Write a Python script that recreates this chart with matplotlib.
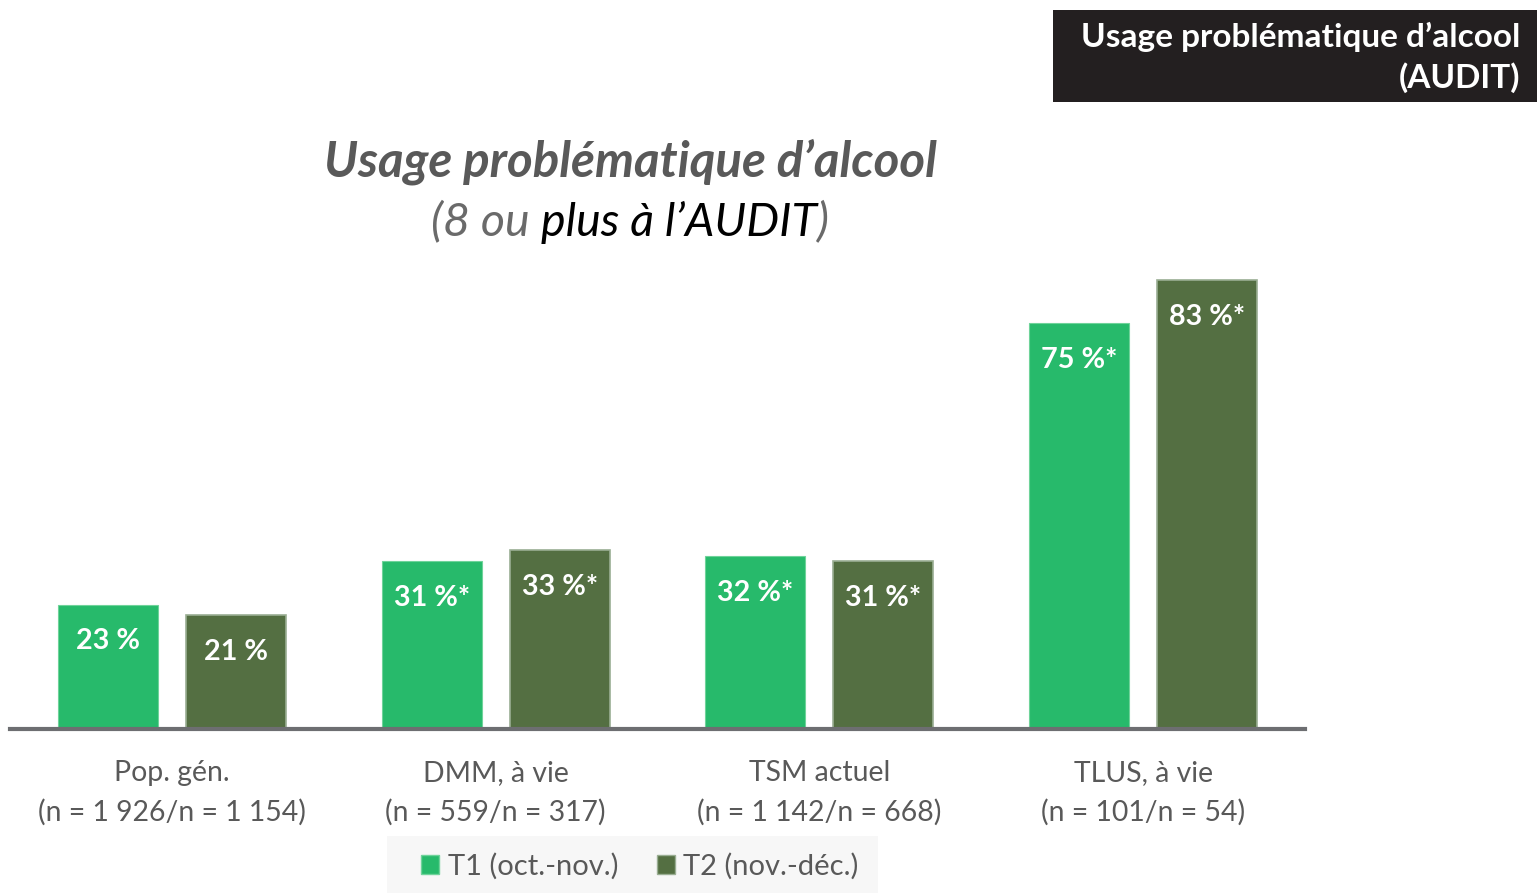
import matplotlib
matplotlib.use("Agg")
import matplotlib.pyplot as plt
from matplotlib.patches import Rectangle, Patch
import numpy as np

categories = ["Pop. gén.\n(n = 1 926/n = 1 154)",
              "DMM, à vie\n(n = 559/n = 317)",
              "TSM actuel\n(n = 1 142/n = 668)",
              "TLUS, à vie\n(n = 101/n = 54)"]
t1_values = [23, 31, 32, 75]
t2_values = [21, 33, 31, 83]
t1_labels = ["23 %", "31 %*", "32 %*", "75 %*"]
t2_labels = ["21 %", "33 %*", "31 %*", "83 %*"]
series_names = ["T1 (oct.-nov.)", "T2 (nov.-déc.)"]

C1 = "#27ba6b"
C2 = "#546f42"
GRAY = "#595959"
FONT = "Lato"

W, H = 1537, 893
fig = plt.figure(figsize=(W / 100, H / 100), dpi=100)
fig.patch.set_facecolor("white")

base_px = 729
top_px = 250
px_per = 5.41
ax = fig.add_axes([10 / W, (H - base_px) / H, (1305 - 10) / W, (base_px - top_px) / H])
ax.set_xlim(-0.5, 3.5)
ax.set_ylim(0, (base_px - top_px) / px_per)

x = np.arange(len(categories))
bw = 100 / 324
off = 64 / 324
b1 = ax.bar(x - off, t1_values, bw, color=C1, edgecolor="#6fd39a", linewidth=0.8, zorder=2)
b2 = ax.bar(x + off, t2_values, bw, color=C2, edgecolor="#9aae93", linewidth=1.2, zorder=2)

for bars, labels in ((b1, t1_labels), (b2, t2_labels)):
    for r, lab in zip(bars, labels):
        ax.annotate(lab, (r.get_x() + r.get_width() / 2, r.get_height()),
                    xytext=(0, -26.5), textcoords="offset points",
                    ha="center", va="center", color="white",
                    fontsize=20.7, fontweight="bold", family=FONT)

for s in ["top", "left", "right"]:
    ax.spines[s].set_visible(False)
ax.spines["bottom"].set_color("#6d6e71")
ax.spines["bottom"].set_linewidth(3)
ax.spines["bottom"].set_zorder(3)
ax.set_yticks([])
ax.set_xticks(x)
ax.set_xticklabels(categories, fontsize=20.4, color=GRAY, family=FONT, linespacing=1.6)
ax.tick_params(axis="x", length=0, pad=22)
ax.set_facecolor("none")

# Top-right dark box
fig.patches.append(Rectangle((1053 / W, (H - 102) / H), (W - 1053) / W, 92 / H,
                             transform=fig.transFigure, facecolor="#231f20",
                             edgecolor="none", zorder=0))
fig.text(1520 / W, 1 - 37 / H, "Usage problématique d’alcool", ha="right", va="center",
         color="white", fontsize=24, fontweight="bold", family=FONT)
fig.text(1520 / W, 1 - 78 / H, "(AUDIT)", ha="right", va="center",
         color="white", fontsize=24, fontweight="bold", family=FONT)

# Title
fig.text(630 / W, 1 - 162 / H, "Usage problématique d’alcool", ha="center", va="center",
         color=GRAY, fontsize=35.5, fontweight="bold", style="italic", family=FONT)

pieces = [("(8 ou ", "#6a6a6a"), ("plus à l’AUDIT", "black"), (")", "#6a6a6a")]
renderer = fig.canvas.get_renderer()
texts = []
total = 0
for s, c in pieces:
    t = fig.text(0, 1 - 222 / H, s.replace(" ", "\u00a0"), ha="left", va="center",
                 color=c, fontsize=33.5, style="italic", family=FONT)
    bb = t.get_window_extent(renderer)
    texts.append((t, bb.width))
    total += bb.width
xpos = 630 - total / 2
for t, w in texts:
    t.set_x(xpos / W)
    xpos += w

# Legend
fig.patches.append(Rectangle((387 / W, 0), (878 - 387) / W, (H - 836) / H,
                             transform=fig.transFigure, facecolor="#f7f7f7",
                             edgecolor="none", zorder=0))
handles = [Patch(facecolor=C1, edgecolor="#6fd39a"), Patch(facecolor=C2, edgecolor="#9aae93")]
leg = fig.legend(handles, series_names, loc="center", bbox_to_anchor=(640 / W, 1 - 866 / H),
                 ncol=2, frameon=False, prop={"family": FONT, "size": 21},
                 handlelength=0.62, handleheight=0.62, handletextpad=0.3, columnspacing=1.3)
for t in leg.get_texts():
    t.set_color(GRAY)

fig.savefig("out.png", dpi=100)
